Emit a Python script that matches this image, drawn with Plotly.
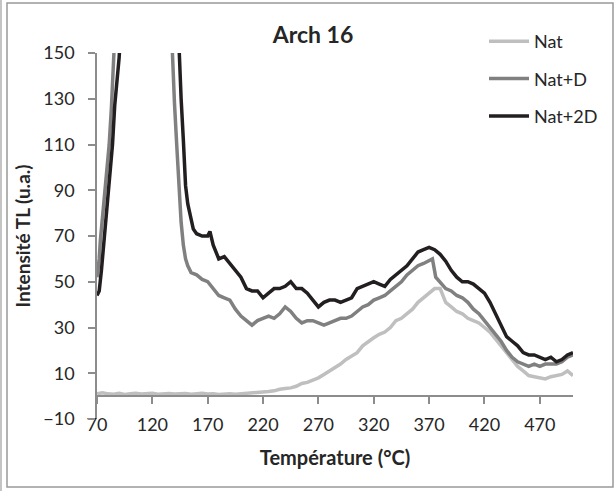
import plotly.graph_objects as go

# ---------------- data ----------------
title_text = "Arch 16"
x_title = "Température (°C)"
y_title = "Intensité TL (u.a.)"

series_names = ["Nat", "Nat+D", "Nat+2D"]

nat_temp = list(range(70, 505, 5))
nat_int = [1, 1.5, 1, 0.8, 1.2, 0.7, 1, 1.3, 0.9, 1,
           1.2, 0.8, 1, 1.1, 0.9, 1, 1.1, 0.8, 1, 1.2,
           0.9, 1, 0.7, 0.9, 1, 0.8, 1, 1.2, 1.1, 1.5,
           1.8, 2, 2.3, 3, 3.3, 3.6, 4.3, 5.5, 6, 7,
           8, 9.5, 11, 12.5, 14, 16, 17.5, 19, 22, 24,
           25.5, 27, 28, 30, 33, 34, 36, 38, 41, 43,
           45, 47, 47, 41, 39, 37, 36, 34, 33, 32,
           30, 28, 25, 22, 19, 16, 13, 11, 9, 8.5,
           8, 7.5, 8.5, 9, 9.5, 11, 9]

natd_temp = [70, 72, 73, 75, 77, 79, 81, 83, 85, 87, 112,
             136, 138, 140, 142, 144, 146, 148, 150, 152, 155,
             160, 165, 170, 175, 180, 185, 190, 195, 200, 205,
             210, 215, 220, 225, 230, 235, 240, 245, 250, 255,
             260, 265, 270, 275, 280, 285, 290, 295, 300, 305,
             310, 315, 320, 325, 330, 335, 340, 345, 350, 355,
             360, 365, 370, 373, 376,
             380, 385, 390, 395, 400, 405, 410, 415, 420, 425,
             430, 435, 440, 445, 450, 455, 460, 465, 470, 475,
             480, 485, 490, 495, 500]
natd_int = [52, 60, 68, 78, 88, 100, 110, 126, 150, 170, 430,
            175, 150, 128, 110, 90, 76, 66, 60, 57, 54,
            53, 51, 50, 47, 44, 43, 42, 38, 35, 33,
            31, 33, 34, 35, 34, 36, 39, 37, 34, 32,
            33, 33, 32, 31, 32, 33, 34, 34, 35, 37,
            39, 40, 42, 43, 44, 46, 48, 50, 53, 55,
            57, 58, 59, 60, 52,
            50, 47, 46, 44, 43, 41, 38, 36, 33, 30,
            27, 24, 20, 17, 15, 14, 13, 14, 13, 14,
            14, 14, 15, 17, 18]

nat2d_temp = [70, 72, 74, 76, 78, 80, 82, 84, 86, 88, 90, 92, 115,
              141, 144, 146, 148, 150, 152, 154, 157, 160,
              165, 170, 172, 175,
              180, 185, 190, 195, 200, 205, 210, 215, 220, 225,
              230, 235, 240, 245, 250, 255, 260, 265, 270, 275,
              280, 285, 290, 295, 300, 305, 310, 315, 320, 325,
              330, 335, 340, 345, 350, 355, 360, 365, 370, 375,
              380, 385, 390, 395, 400, 405, 410, 415, 420, 425,
              430, 435, 440, 445, 450, 455, 460, 465, 470, 475,
              480, 485, 490, 495, 500]
nat2d_int = [44, 46, 55, 66, 76, 86, 97, 110, 127, 137, 148, 165, 420,
             190, 150, 130, 112, 92, 84, 79, 73, 71,
             70, 70, 72, 66,
             60, 61, 58, 55, 52, 47, 46, 46, 43, 45,
             47, 47, 48, 50, 47, 47, 45, 42, 39, 41,
             42, 42, 41, 42, 43, 47, 48, 49, 50, 49,
             48, 51, 53, 55, 57, 60, 63, 64, 65, 64,
             62, 59, 55, 52, 50, 50, 49, 47, 45, 41,
             36, 31, 26, 24, 22, 19, 18, 18, 17, 16,
             17, 15, 16, 18, 19]

x_ticks = [70, 120, 170, 220, 270, 320, 370, 420, 470]
y_ticks = [-10, 10, 30, 50, 70, 90, 110, 130, 150]

# ---------------- styling ----------------
W, H = 616, 491
ML, MR, MT, MB = 97, 43, 53, 72
PW, PH = W - ML - MR, H - MT - MB
colors = ["#bfbfbf", "#808080", "#231f20"]
FONT = "Lato"
axis_col = "#8c8c8c"
text_col = "#262626"


def px_x(px):
    return (px - ML) / PW


def px_y(py):
    return (H - MB - py) / PH


fig = go.Figure()
for name, xs, ys, c in zip(series_names,
                           [nat_temp, natd_temp, nat2d_temp],
                           [nat_int, natd_int, nat2d_int], colors):
    fig.add_trace(go.Scatter(x=xs, y=ys, mode="lines", name=name,
                             legendgroup=name, hoverinfo="skip",
                             line=dict(color=c, width=3.5)))

fig.update_layout(
    width=W, height=H,
    margin=dict(l=ML, r=MR, t=MT, b=MB, autoexpand=False),
    paper_bgcolor="white", plot_bgcolor="white",
    hovermode=False,
    font=dict(family=FONT, color=text_col),
    title=dict(text=title_text, xref="container", yref="container",
               x=313 / W, y=1 - 35 / H, xanchor="center", yanchor="middle",
               font=dict(family=FONT, size=23, weight="bold", color=text_col)),
    legend=dict(x=px_x(484), y=px_y(23), xanchor="left", yanchor="top",
                font=dict(family=FONT, size=18, color=text_col),
                traceorder="grouped", tracegroupgap=11, itemwidth=40,
                bgcolor="rgba(0,0,0,0)"),
    xaxis=dict(range=[70, 500], tickvals=x_ticks, showgrid=False,
               zeroline=False, showline=True, linecolor=axis_col,
               linewidth=1.5, ticks="outside", ticklen=7,
               tickcolor=axis_col, tickwidth=1.5,
               anchor="free", position=10 / 160, ticklabelstandoff=6,
               tickfont=dict(family=FONT, size=18, color=text_col),
               title=dict(text=x_title, standoff=16,
                          font=dict(family=FONT, size=20, weight="bold",
                                    color=text_col))),
    yaxis=dict(range=[-10, 150], tickvals=y_ticks, showgrid=False,
               zeroline=False, showline=True, linecolor=axis_col,
               linewidth=1.5, ticks="outside", ticklen=7,
               tickcolor=axis_col, tickwidth=1.5, ticklabelstandoff=10,
               tickfont=dict(family=FONT, size=18, color=text_col),
               title=dict(text=y_title, standoff=8,
                          font=dict(family=FONT, size=19, weight="bold",
                                    color=text_col))),
    shapes=[
        dict(type="rect", xref="paper", yref="paper",
             x0=px_x(7), x1=px_x(613), y0=px_y(487), y1=px_y(3),
             line=dict(color="#999999", width=1.5), layer="below"),
        dict(type="line", xref="paper", yref="paper",
             x0=px_x(1), x1=px_x(1), y0=px_y(491), y1=px_y(0),
             line=dict(color="#b0b0b0", width=1.5), layer="below"),
    ],
)

fig.write_html("out.html",
               config={"displayModeBar": False},
               post_script="document.body.style.margin='0';")
